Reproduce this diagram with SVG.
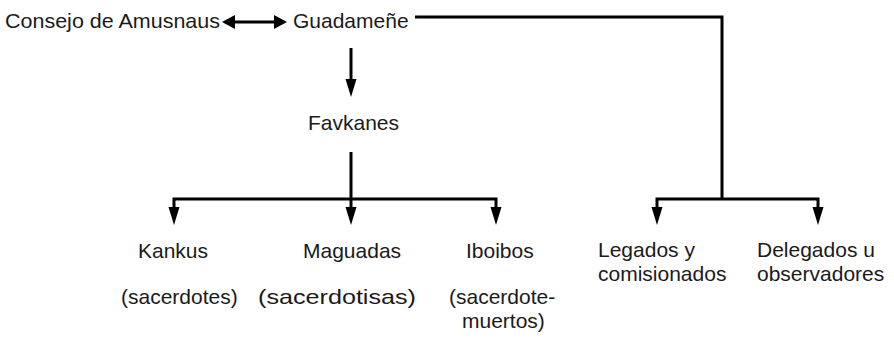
<svg xmlns="http://www.w3.org/2000/svg" width="894" height="339" viewBox="0 0 894 339">
<defs>
<style>
text{font-family:"Liberation Sans",Arial,sans-serif;font-size:21px;fill:#1a1a1a}
.c{fill:none;stroke:#000;stroke-width:3;stroke-linejoin:miter}
.a{marker-end:url(#ah)}
.b{marker-start:url(#ahs);marker-end:url(#ah)}
.d{marker-start:url(#dhs);marker-end:url(#dh)}
</style>
<marker id="ah" markerUnits="userSpaceOnUse" markerWidth="18" markerHeight="12" refX="10" refY="6" orient="auto" overflow="visible"><path d="M0,0.5 L18,6 L0,11.5 z" fill="#000"/></marker>
<marker id="ahs" markerUnits="userSpaceOnUse" markerWidth="18" markerHeight="12" refX="10" refY="6" orient="auto-start-reverse" overflow="visible"><path d="M0,0.5 L18,6 L0,11.5 z" fill="#000"/></marker>
<marker id="dh" markerUnits="userSpaceOnUse" markerWidth="13" markerHeight="14" refX="6" refY="7" orient="auto" overflow="visible"><path d="M0,0 L13,7 L0,14 z" fill="#000"/></marker>
<marker id="dhs" markerUnits="userSpaceOnUse" markerWidth="13" markerHeight="14" refX="6" refY="7" orient="auto-start-reverse" overflow="visible"><path d="M0,0 L13,7 L0,14 z" fill="#000"/></marker>
</defs>
<g id="connectors">
<path class="c d" d="M229,22 H280"/>
<path class="c" d="M415,17 H722 V199"/>
<path class="c a" d="M351,48 V89"/>
<path class="c a" d="M351,152 V217"/>
<path class="c b" d="M174,217 V199 H496 V217"/>
<path class="c b" d="M657,217 V199 H818 V217"/>
</g>
<g id="consejo"><text x="5" y="28" textLength="215" lengthAdjust="spacingAndGlyphs">Consejo de Amusnaus</text></g>
<g id="guadamene"><text x="293" y="28">Guadameñe</text></g>
<g id="favkanes"><text x="308" y="130">Favkanes</text></g>
<g id="kankus"><text x="138" y="258">Kankus</text><text x="121" y="304">(sacerdotes)</text></g>
<g id="maguadas"><text x="303" y="258">Maguadas</text><text x="258" y="304" textLength="158" lengthAdjust="spacingAndGlyphs">(sacerdotisas)</text></g>
<g id="iboibos"><text x="466" y="258">Iboibos</text><text x="449" y="304">(sacerdote-</text><text x="462" y="328">muertos)</text></g>
<g id="legados"><text x="598" y="257">Legados y</text><text x="598" y="281">comisionados</text></g>
<g id="delegados"><text x="757" y="257">Delegados u</text><text x="757" y="281">observadores</text></g>
</svg>
